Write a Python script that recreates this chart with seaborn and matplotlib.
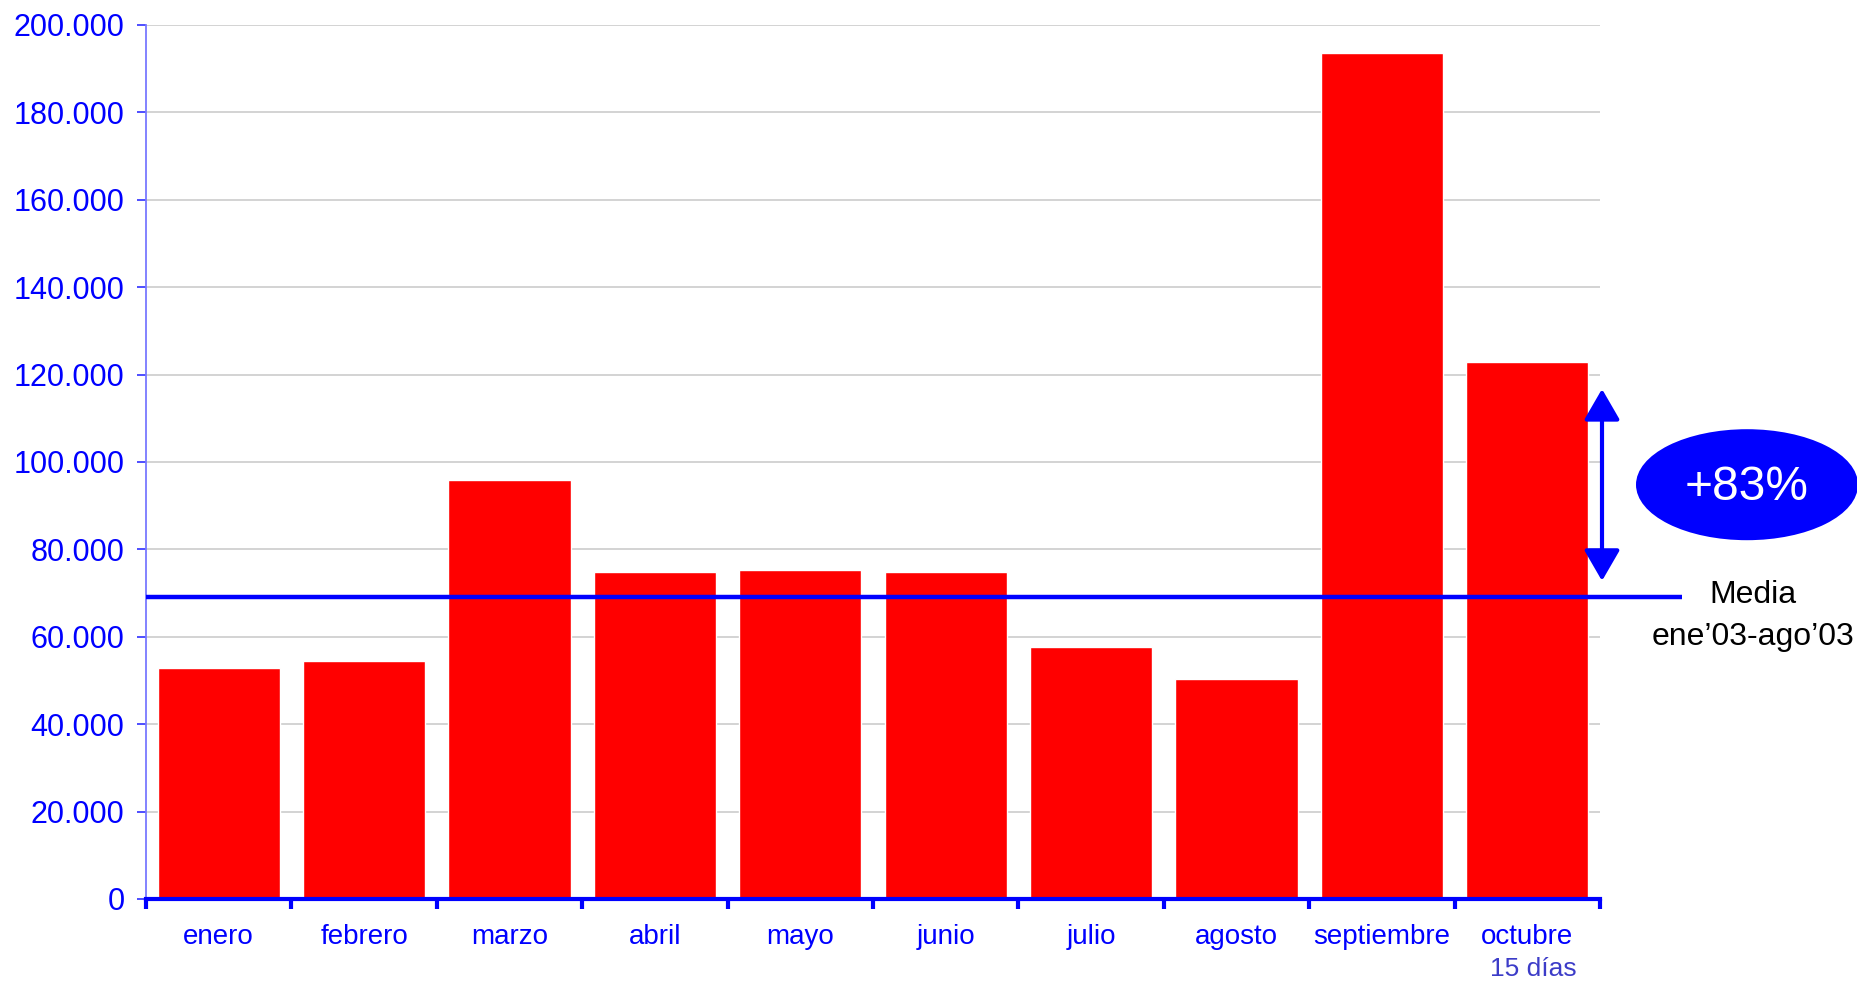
import matplotlib
matplotlib.use("Agg")
import matplotlib.pyplot as plt
import matplotlib.ticker as mticker
from matplotlib.patches import Ellipse
import seaborn as sns
import pandas as pd

months = ["enero", "febrero", "marzo", "abril", "mayo", "junio",
          "julio", "agosto", "septiembre", "octubre"]
values = [52800, 54400, 95800, 74800, 75200, 74800, 57600, 50300, 193600, 122900]
media_value = 69000
arrow_low, arrow_high = 72800, 116700
y_ticks = [0, 20000, 40000, 60000, 80000, 100000, 120000, 140000, 160000, 180000, 200000]
pct_label = "+83%"
media_label = "Media"
period_label = "ene\u201903-ago\u201903"
octubre_note = "15 días"

sns.set_style("white")
plt.rcParams["font.family"] = ["Liberation Sans", "DejaVu Sans"]

BLUE = "#0000FF"
df = pd.DataFrame({"mes": months, "valor": values})

fig = plt.figure(figsize=(18.58, 9.86), dpi=100)
ax = fig.add_axes([146 / 1858, 1 - 899 / 986, (1600 - 146) / 1858, (899 - 25) / 986])

sns.barplot(data=df, x="mes", y="valor", color="#FF0000", saturation=1,
            width=0.84, ax=ax, zorder=2)

ax.set_ylim(0, 200000)
ax.set_xlim(-0.5, len(months) - 0.5)
ax.set_yticks(y_ticks)
ax.yaxis.set_major_formatter(mticker.FuncFormatter(lambda v, p: f"{int(v):,}".replace(",", ".")))
ax.set_xlabel("")
ax.set_ylabel("")

ax.grid(axis="y", color="#C8C8C8", lw=1.1, zorder=0)
ax.set_axisbelow(True)

for s in ["top", "right"]:
    ax.spines[s].set_visible(False)
ax.spines["left"].set_color("#7878FF")
ax.spines["left"].set_linewidth(1.3)
ax.spines["bottom"].set_color(BLUE)
ax.spines["bottom"].set_linewidth(3)
ax.spines["bottom"].set_zorder(5)

ax.tick_params(axis="y", left=True, labelcolor=BLUE, color="#3030FF", labelsize=22,
               length=6.5, width=1.2, direction="out", pad=9)
ax.tick_params(axis="x", which="major", bottom=True, length=0, labelsize=20,
               labelcolor=BLUE, pad=18)
ax.set_xticks([i - 0.5 for i in range(len(months) + 1)], minor=True)
ax.tick_params(axis="x", which="minor", bottom=True, length=7, width=3, color=BLUE,
               direction="out")

# mean line, extended beyond the axes
ax.plot([-0.5, -0.5 + (1682 - 146) / 145.4], [media_value, media_value],
        color=BLUE, lw=3.2, clip_on=False, zorder=4, solid_capstyle="butt")

# double arrow
xa = len(months) - 0.5 + (1602 - 1600) / 145.4
ax.annotate("", xy=(xa, arrow_high), xytext=(xa, arrow_low),
            arrowprops=dict(arrowstyle="<|-|>,head_length=0.95,head_width=0.55",
                            color=BLUE, lw=3, mutation_scale=20,
                            shrinkA=0, shrinkB=0),
            annotation_clip=False, zorder=6)

# note under octubre
ax.text(len(months) - 1 + 0.04, -0.08, octubre_note, transform=ax.get_xaxis_transform(),
        ha="center", va="center", fontsize=19, color="#3C3CC8")

# ellipse with percentage
ell = Ellipse((1747 / 1858, 1 - 484.7 / 986), 222 / 1858, 111 / 986,
              transform=fig.transFigure, facecolor=BLUE, edgecolor="none")
fig.add_artist(ell)
fig.text(1747 / 1858, 1 - 487 / 986, pct_label, ha="center", va="center",
         fontsize=34.5, color="white")

fig.text(1753 / 1858, 1 - 595 / 986, media_label, ha="center", va="center",
         fontsize=23, color="black")
fig.text(1753 / 1858, 1 - 637 / 986, period_label, ha="center", va="center",
         fontsize=23, color="black")

fig.savefig("out.png", dpi=100, facecolor="white")
